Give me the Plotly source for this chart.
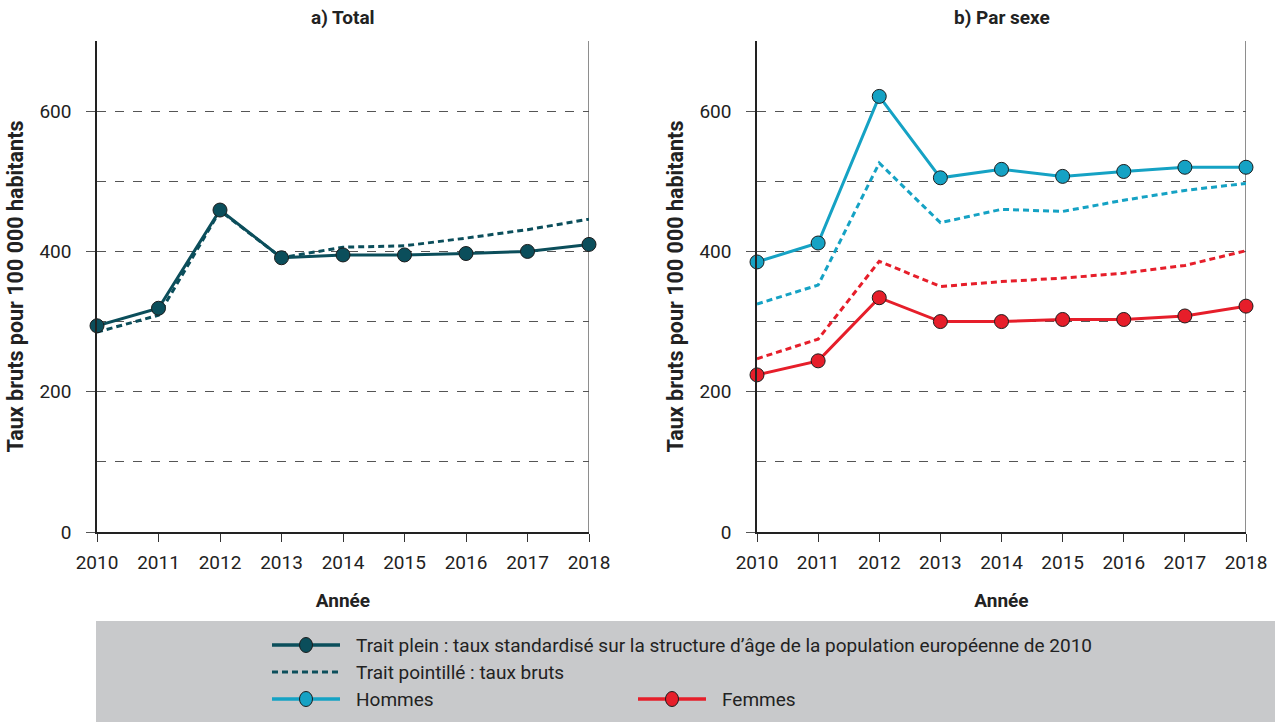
import plotly.graph_objects as go

years = [2010, 2011, 2012, 2013, 2014, 2015, 2016, 2017, 2018]
total_std = [294, 319, 459, 391, 395, 395, 397, 400, 410]
total_brut = [285, 309, 458, 391, 406, 408, 419, 431, 446]
hommes_std = [385, 412, 621, 505, 517, 507, 514, 520, 520]
hommes_brut = [325, 352, 526, 441, 460, 457, 473, 487, 497]
femmes_std = [224, 244, 334, 300, 300, 303, 303, 308, 322]
femmes_brut = [247, 275, 386, 350, 357, 362, 369, 380, 401]

panel_titles = ["a) Total", "b) Par sexe"]
y_title = "Taux bruts pour 100 000 habitants"
x_title = "Année"
legend_labels = [
    "Trait plein : taux standardisé sur la structure d\u2019âge de la population européenne de 2010",
    "Trait pointillé : taux bruts",
    "Hommes",
    "Femmes",
]

TEAL = "#0b4e5b"
BLUE = "#15a2c4"
RED = "#e61e2a"
FONT = "Roboto, Arial"
W, H = 1275, 722

fig = go.Figure()

def add_pair(std, brut, color, xa, ya):
    fig.add_trace(go.Scatter(x=years, y=brut, mode="lines", xaxis=xa, yaxis=ya,
                             line=dict(color=color, width=3, dash="6px,4px"),
                             showlegend=False, cliponaxis=False))
    fig.add_trace(go.Scatter(x=years, y=std, mode="lines+markers", xaxis=xa, yaxis=ya,
                             line=dict(color=color, width=3),
                             marker=dict(size=14, color=color, line=dict(color="#1c1c1c", width=1)),
                             showlegend=False, cliponaxis=False))

add_pair(total_std, total_brut, TEAL, "x", "y")
add_pair(hommes_std, hommes_brut, BLUE, "x2", "y2")
add_pair(femmes_std, femmes_brut, RED, "x2", "y2")

xd1 = [97 / W, 589 / W]
xd2 = [757 / W, 1246 / W]
yd = [1 - 532 / H, 1 - 41 / H]

xcommon = dict(range=[2010, 2018], tickmode="array", tickvals=years,
               ticktext=[str(y) for y in years], ticks="outside", ticklen=8,
               tickcolor="#333", showline=True, linecolor="#222", linewidth=1.5,
               showgrid=False, zeroline=False, automargin=False, ticklabelstandoff=4,
               tickfont=dict(family=FONT, size=19, color="#222"),
               title=dict(text="<b>" + x_title + "</b>", font=dict(family=FONT, size=19, color="#222"), standoff=21))
ycommon = dict(range=[0, 700], tickmode="array", tickvals=[0, 200, 400, 600],
               ticks="outside", ticklen=9, tickcolor="#555", showline=True,
               linecolor="#222", linewidth=1.5, showgrid=True, gridcolor="#555",
               griddash="dash", gridwidth=1, zeroline=False, automargin=False,
               ticklabelstandoff=11,
               minor=dict(tickvals=[100, 300, 500, 700], showgrid=True, gridcolor="#555",
                          griddash="dash", gridwidth=1, ticks=""),
               tickfont=dict(family=FONT, size=19, color="#222"),
               title=dict(text="<b>" + y_title + "</b>", font=dict(family=FONT, size=21.5, color="#222"), standoff=10))

fig.update_layout(
    width=W, height=H, margin=dict(l=0, r=0, t=0, b=0),
    paper_bgcolor="white", plot_bgcolor="white",
    xaxis=dict(domain=xd1, anchor="y", **xcommon),
    yaxis=dict(domain=yd, anchor="x", **ycommon),
    xaxis2=dict(domain=xd2, anchor="y2", **xcommon),
    yaxis2=dict(domain=yd, anchor="x2", **ycommon),
    showlegend=False,
)

shapes = []
shapes.append(dict(type="line", xref="x", yref="y", x0=2018, x1=2018, y0=0, y1=700,
                   line=dict(color="#444", width=1.2), layer="below"))
shapes.append(dict(type="line", xref="x2", yref="y2", x0=2018, x1=2018, y0=0, y1=700,
                   line=dict(color="#444", width=1.2), layer="below"))
shapes.append(dict(type="rect", xref="paper", yref="paper", x0=96 / W, x1=1, y0=0, y1=1 - 621 / H,
                   fillcolor="#c8c9cb", line=dict(width=0), layer="below"))

annotations = []
for i, t in enumerate(panel_titles):
    xc = (xd1[0] + xd1[1]) / 2 if i == 0 else (xd2[0] + xd2[1]) / 2
    annotations.append(dict(text="<b>" + t + "</b>", xref="paper", yref="paper", x=xc, y=1 - 18 / H,
                            showarrow=False, font=dict(family=FONT, size=19, color="#222"),
                            xanchor="center", yanchor="middle"))

def legend_item(x0px, ypx, color, dashed, marker, label):
    line = dict(color=color, width=3, dash="6px,4px") if dashed else dict(color=color, width=3.5)
    shapes.append(dict(type="line", xref="paper", yref="paper", x0=x0px / W, x1=(x0px + 68) / W,
                       y0=1 - ypx / H, y1=1 - ypx / H, line=line))
    if marker:
        cx = x0px + 34
        shapes.append(dict(type="circle", xref="paper", yref="paper",
                           x0=(cx - 6.5) / W, x1=(cx + 6.5) / W,
                           y0=1 - (ypx + 7.5) / H, y1=1 - (ypx - 7.5) / H,
                           fillcolor=color, line=dict(color="#1c1c1c", width=1)))
    annotations.append(dict(text=label, xref="paper", yref="paper", x=(x0px + 82) / W, y=1 - ypx / H,
                            showarrow=False, xanchor="left", yanchor="middle",
                            font=dict(family=FONT, size=19, color="#222")))

legend_item(272, 645, TEAL, False, True, legend_labels[0])
legend_item(272, 672, TEAL, True, False, legend_labels[1])
legend_item(272, 699, BLUE, False, True, legend_labels[2])
legend_item(638, 699, RED, False, True, legend_labels[3])

fig.update_layout(shapes=shapes, annotations=annotations)
fig.write_html("out.html", config={"displayModeBar": False},
               post_script="document.body.style.margin='0';document.body.style.padding='0';")
